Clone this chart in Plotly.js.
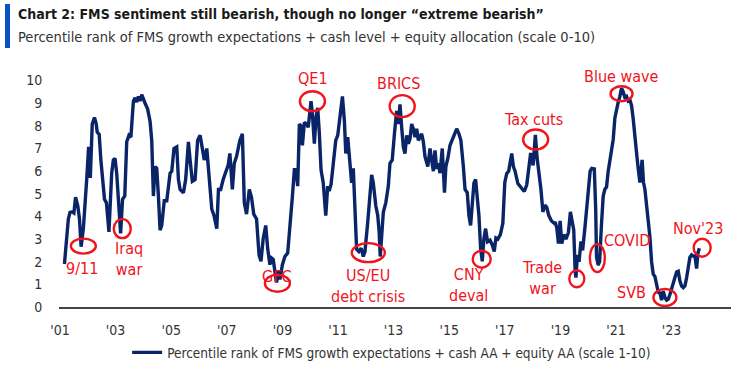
<!DOCTYPE html>
<html>
<head>
<meta charset="utf-8">
<script src="https://cdn.plot.ly/plotly-3.0.1.min.js"></script>
<style>
  html, body { margin: 0; padding: 0; background: #fff; }
  #wrap { position: relative; width: 740px; height: 377px; overflow: hidden; }
  #chart { position: absolute; left: 0; top: 0; width: 740px; height: 377px; }
  #bar { position: absolute; left: 5px; top: 4px; width: 5px; height: 44px; background: #0a52c8; }
  #t1 { position: absolute; left: 18px; top: 6px; font: bold 14px "DejaVu Sans Condensed", sans-serif; color: #1a1a1a; white-space: nowrap; }
  #t2 { position: absolute; left: 18px; top: 29px; font: 14.5px "DejaVu Sans Condensed", sans-serif; color: #333; white-space: nowrap; }
</style>
</head>
<body>
<div id="wrap">
  <div id="chart"></div>
  <div id="bar"></div>
  <div id="t1">Chart 2: FMS sentiment still bearish, though no longer “extreme bearish”</div>
  <div id="t2">Percentile rank of FMS growth expectations + cash level + equity allocation (scale 0-10)</div>
</div>
<script>
// Decimal-year positions of each reading
const years = [
 2001.16,2001.30,2001.36,2001.44,2001.50,2001.56,2001.64,2001.70,2001.76,2001.84,2001.96,
 2002.03,2002.09,2002.16,2002.24,2002.30,2002.34,2002.41,2002.47,2002.55,2002.60,2002.67,2002.76,2002.86,2002.92,2002.98,
 2003.04,2003.10,2003.18,2003.25,2003.33,2003.40,2003.48,2003.55,2003.64,2003.70,2003.76,2003.82,2003.88,2003.94,
 2004.00,2004.06,2004.15,2004.24,2004.30,2004.36,2004.42,2004.48,2004.54,2004.60,2004.66,2004.75,2004.84,2004.90,2004.96,
 2005.02,2005.10,2005.20,2005.26,2005.32,2005.44,2005.52,2005.62,2005.68,2005.76,2005.86,2005.95,
 2006.04,2006.12,2006.19,2006.28,2006.36,2006.46,2006.54,2006.64,2006.70,2006.78,2006.87,2006.96,
 2007.05,2007.11,2007.20,2007.27,2007.35,2007.47,2007.56,2007.63,2007.71,2007.81,2007.89,2007.97,
 2008.07,2008.16,2008.23,2008.31,2008.40,2008.47,2008.55,2008.61,2008.67,2008.73,2008.79,2008.85,2008.91,
 2009.00,2009.09,2009.19,2009.27,2009.36,2009.43,2009.49,2009.55,2009.61,2009.67,2009.72,2009.79,2009.87,2009.93,
 2010.03,2010.08,2010.15,2010.21,2010.27,2010.33,2010.39,2010.47,2010.56,2010.63,2010.68,2010.75,2010.83,2010.92,2010.99,
 2011.07,2011.16,2011.23,2011.28,2011.35,2011.41,2011.49,2011.55,2011.61,2011.67,2011.75,2011.83,2011.91,2011.97,
 2012.07,2012.15,2012.21,2012.27,2012.36,2012.43,2012.48,2012.52,2012.57,2012.63,2012.72,2012.81,2012.87,2012.95,
 2013.03,2013.11,2013.17,2013.23,2013.29,2013.35,2013.41,2013.47,2013.53,2013.59,2013.65,2013.71,2013.77,2013.83,2013.89,2013.95,
 2014.01,2014.07,2014.13,2014.23,2014.31,2014.37,2014.43,2014.49,2014.55,2014.61,2014.67,2014.75,2014.83,2014.88,2014.95,
 2015.03,2015.11,2015.21,2015.27,2015.35,2015.42,2015.51,2015.57,2015.65,2015.71,2015.77,2015.83,2015.89,2015.95,
 2016.01,2016.07,2016.13,2016.19,2016.25,2016.31,2016.38,2016.47,2016.55,2016.62,2016.68,2016.75,2016.84,2016.93,
 2017.00,2017.07,2017.14,2017.25,2017.31,2017.37,2017.47,2017.58,2017.70,2017.79,2017.86,2017.93,
 2018.02,2018.10,2018.16,2018.23,2018.30,2018.37,2018.44,2018.51,2018.58,2018.68,2018.78,2018.81,2018.87,2018.93,2018.99,
 2019.05,2019.12,2019.20,2019.29,2019.36,2019.42,2019.48,2019.53,2019.56,2019.61,2019.67,2019.74,2019.80,2019.89,2019.95,
 2020.01,2020.07,2020.13,2020.22,2020.27,2020.30,2020.36,2020.41,2020.48,2020.54,2020.60,2020.66,2020.72,2020.78,2020.84,2020.90,2020.96,
 2021.02,2021.08,2021.14,2021.20,2021.26,2021.32,2021.38,2021.44,2021.50,2021.56,2021.62,2021.68,2021.74,2021.80,2021.86,2021.94,2021.99,
 2022.04,2022.10,2022.16,2022.22,2022.28,2022.34,2022.40,2022.46,2022.52,2022.58,2022.64,2022.70,2022.76,2022.82,2022.88,2022.94,
 2023.00,2023.06,2023.12,2023.18,2023.24,2023.30,2023.36,2023.42,2023.48,2023.54,2023.60,2023.66,2023.72,2023.78,2023.84,2023.90,2023.95,2024.00
];
// Sentiment score (scale 0-10)
const sentiment = [
 1.90,3.89,4.18,4.20,4.15,4.85,4.47,3.89,2.66,3.46,5.63,
 7.07,5.70,8.08,8.37,8.10,7.72,7.62,6.50,5.40,4.76,4.60,3.32,5.92,6.50,6.56,
 5.90,4.76,3.25,4.76,4.90,7.30,7.58,7.50,9.09,9.24,9.05,9.30,9.10,9.38,
 9.15,9.00,8.75,8.20,7.36,4.90,6.20,6.13,4.90,3.39,3.60,4.69,4.69,5.41,5.91,
 5.99,7.00,7.07,5.63,5.19,5.05,5.63,7.29,6.50,5.55,5.63,7.36,
 7.58,6.92,6.49,7.00,5.91,4.32,4.04,3.46,5.19,5.19,5.63,6.00,
 6.27,6.78,5.19,6.35,6.64,7.36,7.65,4.60,4.10,5.19,4.83,4.10,
 3.89,2.30,2.02,3.03,3.60,2.59,1.87,2.16,2.10,1.58,1.08,1.58,1.22,
 1.87,2.23,2.38,3.46,4.90,6.06,6.06,5.34,8.08,8.00,7.14,8.15,8.08,7.94,
 9.09,8.52,7.21,8.37,8.80,7.65,6.06,5.48,4.04,5.34,5.12,5.41,6.49,7.36,7.58,
 8.52,9.30,8.22,6.78,7.50,6.78,5.48,6.13,4.47,2.55,2.45,2.60,2.23,2.45,
 3.75,4.90,5.84,5.48,4.47,4.04,3.32,2.23,3.03,4.18,4.61,5.34,6.35,6.49,
 7.65,8.66,8.08,8.95,7.94,7.07,6.78,7.58,7.21,7.43,8.08,7.87,7.50,7.87,7.36,7.50,
 7.65,7.30,6.64,6.20,7.00,6.49,6.00,6.92,6.10,6.35,5.91,7.00,5.05,6.20,6.56,
 7.14,7.36,7.65,7.87,7.65,7.36,6.20,5.19,5.05,4.04,3.60,4.47,5.48,5.63,
 4.76,4.04,2.59,2.02,3.03,3.46,2.88,2.95,2.74,2.45,3.05,3.00,3.20,3.70,
 5.50,5.90,6.00,6.78,6.20,6.00,5.45,5.30,5.10,5.40,6.10,6.80,
 6.25,7.60,6.60,6.00,5.20,4.20,4.50,4.40,4.05,3.80,3.70,3.75,3.50,2.80,3.80,
 2.80,3.20,3.00,3.30,4.20,3.70,3.40,1.60,1.30,2.30,2.00,2.90,2.50,3.60,4.45,
 5.45,6.00,6.12,6.10,4.30,2.20,1.85,2.00,3.70,4.90,5.20,5.30,6.00,6.40,6.80,7.40,8.35,
 8.80,9.05,9.30,9.67,9.50,9.25,9.30,9.10,9.15,8.90,8.30,7.40,6.80,6.10,5.50,6.50,5.50,
 5.20,4.50,4.10,3.10,2.00,1.45,1.35,1.00,0.65,0.62,0.30,0.70,0.42,0.30,0.35,0.55,
 0.85,1.00,1.30,1.55,1.58,1.15,0.93,0.86,0.93,1.29,1.80,2.20,2.30,2.25,2.25,1.70,2.40,2.60
];
const tickYears = [2001,2003,2005,2007,2009,2011,2013,2015,2017,2019,2021,2023];
const tickLabels = ["'01","'03","'05","'07","'09","'11","'13","'15","'17","'19","'21","'23"];
const seriesName = "Percentile rank of FMS growth expectations + cash AA + equity AA (scale 1-10)";

// Event labels: [text, x (year), y (score)]
const eventLabels = [
 ["9/11", 2001.78, 1.68], ["Iraq<br>war", 2003.47, 2.14], ["QE1", 2010.09, 10.10],
 ["GFC", 2008.79, 1.33], ["US/EU<br>debt crisis", 2012.09, 0.94], ["BRICS", 2013.17, 9.86],
 ["CNY<br>deval", 2015.68, 0.97], ["Tax cuts", 2018.05, 8.30], ["Trade<br>war", 2018.33, 1.26],
 ["COVID", 2021.38, 2.95], ["Blue wave", 2021.18, 10.17], ["SVB", 2021.54, 0.62], ["Nov'23", 2023.96, 3.46]
];
// Event circles: [x (year), y (score), width px, height px]
const eventCircles = [
 [2001.84, 2.69, 25, 15], [2003.24, 3.46, 17, 19], [2010.08, 9.09, 25, 20], [2008.82, 1.05, 25, 17],
 [2012.09, 2.40, 33, 19], [2013.31, 8.87, 25, 22], [2016.17, 2.11, 18, 17], [2018.11, 7.40, 25, 20],
 [2019.59, 1.25, 15, 17], [2020.33, 2.16, 15, 28], [2021.20, 9.42, 22, 15], [2022.76, 0.42, 23, 17],
 [2024.10, 2.62, 17, 18]
];

const FONT = '"DejaVu Sans Condensed", sans-serif';
const RED = '#f0141c';

const trace = {
  x: years, y: sentiment, type: 'scatter', mode: 'lines', name: seriesName,
  line: { color: '#0a2468', width: 3.4 }, showlegend: true, cliponaxis: false
};

const layout = {
  width: 740, height: 377,
  margin: { l: 59, r: 9, t: 67, b: 65.5 },
  paper_bgcolor: '#fff', plot_bgcolor: '#fff',
  font: { family: FONT, size: 14, color: '#333' },
  showlegend: true,
  legend: { orientation: 'h', x: 0.495, y: -0.19, xanchor: 'center', yanchor: 'middle',
            font: { family: FONT, size: 13.5, color: '#333' }, itemwidth: 30 },
  xaxis: {
    type: 'linear', range: [2000.964, 2025.137], tickmode: 'array', tickvals: tickYears, ticktext: tickLabels,
    showgrid: false, zeroline: false, showline: true, linecolor: '#444', linewidth: 1.5,
    ticks: 'outside', ticklen: 10, tickcolor: 'rgba(0,0,0,0)', tickfont: { family: FONT, size: 14, color: '#333' }
  },
  yaxis: {
    range: [0, 10.6], tickmode: 'array', tickvals: [0,1,2,3,4,5,6,7,8,9,10],
    showgrid: false, zeroline: false, showline: false,
    ticks: 'outside', ticklen: 13, tickcolor: 'rgba(0,0,0,0)', tickfont: { family: FONT, size: 14, color: '#333' }
  },
  annotations: eventLabels.map(e => ({
    text: e[0], x: e[1], y: e[2], xref: 'x', yref: 'y', showarrow: false,
    font: { family: FONT, size: 16, color: RED }, xanchor: 'center', yanchor: 'middle'
  })),
  shapes: eventCircles.map(c => ({
    type: 'circle', xref: 'x', yref: 'y', xsizemode: 'pixel', ysizemode: 'pixel',
    xanchor: c[0], yanchor: c[1], x0: -c[2]/2, x1: c[2]/2, y0: -c[3]/2, y1: c[3]/2,
    line: { color: RED, width: 2.4 }
  }))
};

Plotly.newPlot('chart', [trace], layout, { staticPlot: true, displayModeBar: false });
</script>
</body>
</html>
